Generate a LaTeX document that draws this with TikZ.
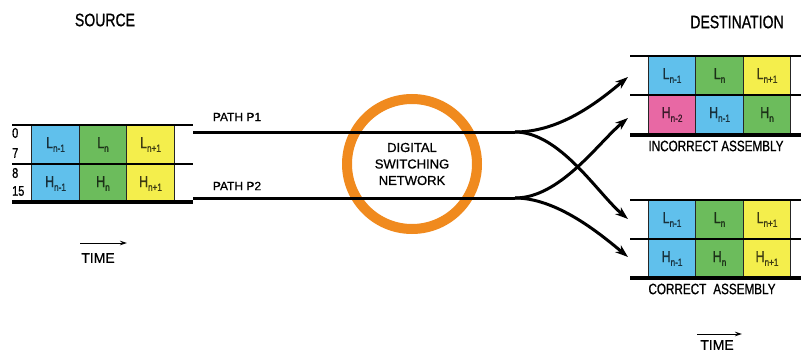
\documentclass[tikz,border=0pt]{standalone}
\usepackage{fontspec}
\setmainfont{Liberation Sans}[FakeBold=0.8]
\newfontfamily\condfont{Liberation Sans}[FakeStretch=0.78, FakeBold=0.9]
\usepackage{xcolor}
\usepackage{tikz}
\usetikzlibrary{arrows.meta,positioning}
\definecolor{slotblue}{RGB}{96,192,236}
\definecolor{slotgreen}{RGB}{108,188,92}
\definecolor{slotyellow}{RGB}{244,238,76}
\definecolor{slotpink}{RGB}{232,104,164}
\definecolor{ringorange}{RGB}{240,138,30}
\newcommand\lowsub[1]{\raisebox{-0.45ex}{\fontsize{10.5}{11}\selectfont #1}}

\begin{document}
\begin{tikzpicture}[x=1pt, y=-1pt,
      slot/.style={draw=black!85, line width=1.2pt, outer sep=0pt, inner sep=0pt,
                   minimum width=47.5pt, minimum height=39pt,
                   font=\condfont\fontsize{16}{16}\selectfont},
      sb/.style={slot, fill=slotblue, text=slotblue!25!black},
      sg/.style={slot, fill=slotgreen, text=slotgreen!25!black},
      sy/.style={slot, fill=slotyellow, text=slotyellow!25!black},
      sp/.style={slot, fill=slotpink, text=slotpink!25!black},
      title/.style={font=\condfont\fontsize{18}{18}\selectfont},
      caption/.style={font=\condfont\fontsize{15}{15}\selectfont},
      bitno/.style={anchor=west, inner sep=0pt, font=\condfont\fontsize{14}{14}\selectfont},
      ring/.style={circle, draw=ringorange, line width=10pt, minimum size=130pt,
                   align=center, font=\fontsize{13}{16.5}\selectfont},
      pathline/.style={line width=3pt},
      route/.style={line width=3pt, -{Stealth[length=13pt, width=9pt]}},
      timearr/.style={line width=1pt, -{Stealth[length=7pt, width=4.5pt]}}
  ]
    \useasboundingbox (0,0) rectangle (801,353);

    % source frame
    \node[sb] (sl1) at (55.5,144.5) {L\lowsub{n-1}};
    \node[sg, right=0pt of sl1] (sl2) {L\lowsub{n}};
    \node[sy, right=0pt of sl2] (sl3) {L\lowsub{n+1}};
    \node[sb, below=0pt of sl1] (sh1) {H\lowsub{n-1}};
    \node[sg, right=0pt of sh1] (sh2) {H\lowsub{n}};
    \node[sy, right=0pt of sh2] (sh3) {H\lowsub{n+1}};
    \draw[line width=1.6pt] (12,125) -- (193,125);
    \draw[line width=1.2pt] (12,164) -- (193,164);
    \draw[line width=3.5pt] (12,202) -- (193,202);
    \node[bitno] (b0) at (12,133) {0};
    \node[bitno] (b7) at (12,153) {7};
    \node[bitno] (b8) at (12,173) {8};
    \node[bitno] (b15) at (12,191) {15};

    % destination, incorrect
    \node[sb] (il1) at (672,75.5) {L\lowsub{n-1}};
    \node[sg, right=0pt of il1] (il2) {L\lowsub{n}};
    \node[sy, right=0pt of il2] (il3) {L\lowsub{n+1}};
    \node[sp, below=0pt of il1] (ih1) {H\lowsub{n-2}};
    \node[sb, right=0pt of ih1] (ih2) {H\lowsub{n-1}};
    \node[sg, right=0pt of ih2] (ih3) {H\lowsub{n}};
    \draw[line width=1.6pt] (630,56) -- (801,56);
    \draw[line width=1.2pt] (630,95) -- (801,95);
    \draw[line width=3.5pt] (630,135) -- (801,135);

    % destination, correct
    \node[sb] (cl1) at (672,219.5) {L\lowsub{n-1}};
    \node[sg, right=0pt of cl1] (cl2) {L\lowsub{n}};
    \node[sy, right=0pt of cl2] (cl3) {L\lowsub{n+1}};
    \node[sb, below=0pt of cl1] (ch1) {H\lowsub{n-1}};
    \node[sg, right=0pt of ch1] (ch2) {H\lowsub{n}};
    \node[sy, right=0pt of ch2] (ch3) {H\lowsub{n+1}};
    \draw[line width=1.6pt] (630,200) -- (801,200);
    \draw[line width=1.2pt] (630,239) -- (801,239);
    \draw[line width=3.5pt] (630,278) -- (801,278);

    \node[title] (src) at (105,20) {SOURCE};
    \node[title] (dst) at (737,22) {DESTINATION};
    \node[caption] (inc) at (716,146) {INCORRECT ASSEMBLY};
    \node[caption] (cor) at (712,289) {CORRECT\hspace{7pt}ASSEMBLY};
    \node[font=\fontsize{12}{12}\selectfont] (lp1) at (237,117) {PATH P1};
    \node[font=\fontsize{12}{12}\selectfont] (lp2) at (237,186) {PATH P2};

    \node[ring] (dsn) at (412,164) {DIGITAL\\SWITCHING\\NETWORK};

    % paths through the network
    \coordinate (p1s) at (193,132); \coordinate (p1k) at (515,132);
    \coordinate (p2s) at (193,198); \coordinate (p2k) at (515,198);
    \coordinate (t1) at (628,77);  \coordinate (t2) at (628,118);
    \coordinate (t3) at (628,219); \coordinate (t4) at (628,257);
    \draw[pathline] (p1s) -- (p1k);
    \draw[pathline] (p2s) -- (p2k);
    \draw[route] (p1k) .. controls (560,132) and (598,102) .. (t1);
    \draw[route] (p1k) .. controls (560,132) and (598,194) .. (t3);
    \draw[route] (p2k) .. controls (560,198) and (598,143) .. (t2);
    \draw[route] (p2k) .. controls (556,198) and (598,232) .. (t4);

    % time arrows
    \coordinate (ts0) at (80,243);  \coordinate (ts1) at (127,243);
    \coordinate (td0) at (697,334); \coordinate (td1) at (742,334);
    \draw[timearr] (ts0) -- (ts1);
    \draw[timearr] (td0) -- (td1);
    \node[font=\fontsize{14}{14}\selectfont] (tms) at (98,258) {TIME};
    \node[font=\fontsize{14}{14}\selectfont] (tmd) at (717,345) {TIME};
\end{tikzpicture}
\end{document}
